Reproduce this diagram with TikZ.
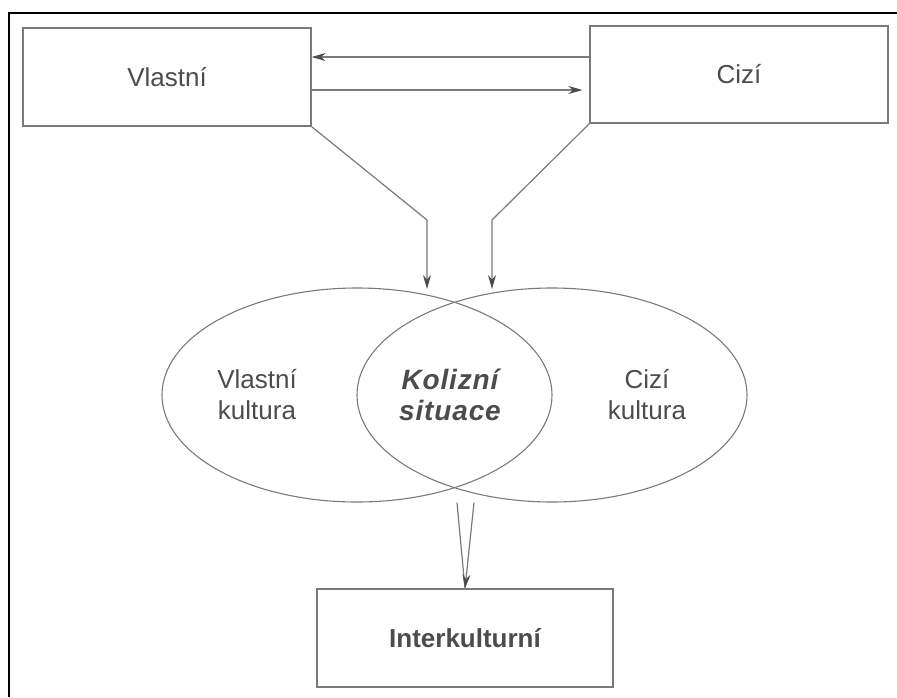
\documentclass[tikz,border=0pt]{standalone}
\usepackage{fontspec}
\setmainfont{Liberation Sans}
\usetikzlibrary{arrows.meta,shapes.geometric}

\definecolor{inkgray}{gray}{0.3}
\definecolor{linegray}{gray}{0.48}

\tikzset{
  box/.style={draw=linegray,line width=1.2pt,minimum height=98pt,inner sep=0pt},
  culture/.style={draw=linegray,line width=1.1pt,ellipse,minimum width=390pt,minimum height=214pt,inner sep=0pt},
  link/.style={draw=linegray,line width=1.2pt},
}

\begin{document}
\begin{tikzpicture}[x=1pt,y=-1pt,>={Stealth[length=14pt,width=8pt,color=inkgray]},text=inkgray,font=\fontsize{26}{31}\selectfont]
 \useasboundingbox (0,0) rectangle (897,697);
 % frame of the page
 \draw[line width=2.8pt] (9,697) -- (9,13) -- (897,13);
 \node[box,minimum width=288pt] (vlastni) at (167,77) {Vlastní};
 \node[box,minimum width=298pt,minimum height=97pt] (cizi) at (739,74.5) {Cizí};
 \node[box,minimum width=296pt] (inter) at (465,638) {\bfseries Interkulturní};
 % two cultures
 \node[culture] (own) at (357,395) {};
 \node[culture] (foreign) at (552,395) {};
 \node[align=center] (ownlbl) at (257,395) {Vlastní\\kultura};
 \node[align=center,font=\fontsize{28}{31}\selectfont\bfseries\itshape\addfontfeatures{LetterSpace=3}] (clash) at (450,395) {Kolizní\\situace};
 \node[align=center] (foreignlbl) at (647,395) {Cizí\\kultura};
 \coordinate (inL) at (427,289);
 \coordinate (inR) at (492,289);
 % connectors
 \draw[link,->] ([yshift=17.5pt]cizi.west) -- ([yshift=17.5pt]cizi.west -| vlastni.east);
 \draw[link,->,shorten >=7pt] ([yshift=-13pt]vlastni.east) -- ([yshift=-13pt]vlastni.east -| cizi.west);
 \draw[link,->] (vlastni.south east) -- ([yshift=69pt]inL) -- (inL);
 \draw[link,->] (cizi.south west) -- ([yshift=69pt]inR) -- (inR);
 \draw[link] ([xshift=-8pt]inter.north |- own.south) -- (inter.north);
 \draw[link,->] ([xshift=9pt]inter.north |- own.south) -- (inter.north);
\end{tikzpicture}
\end{document}
